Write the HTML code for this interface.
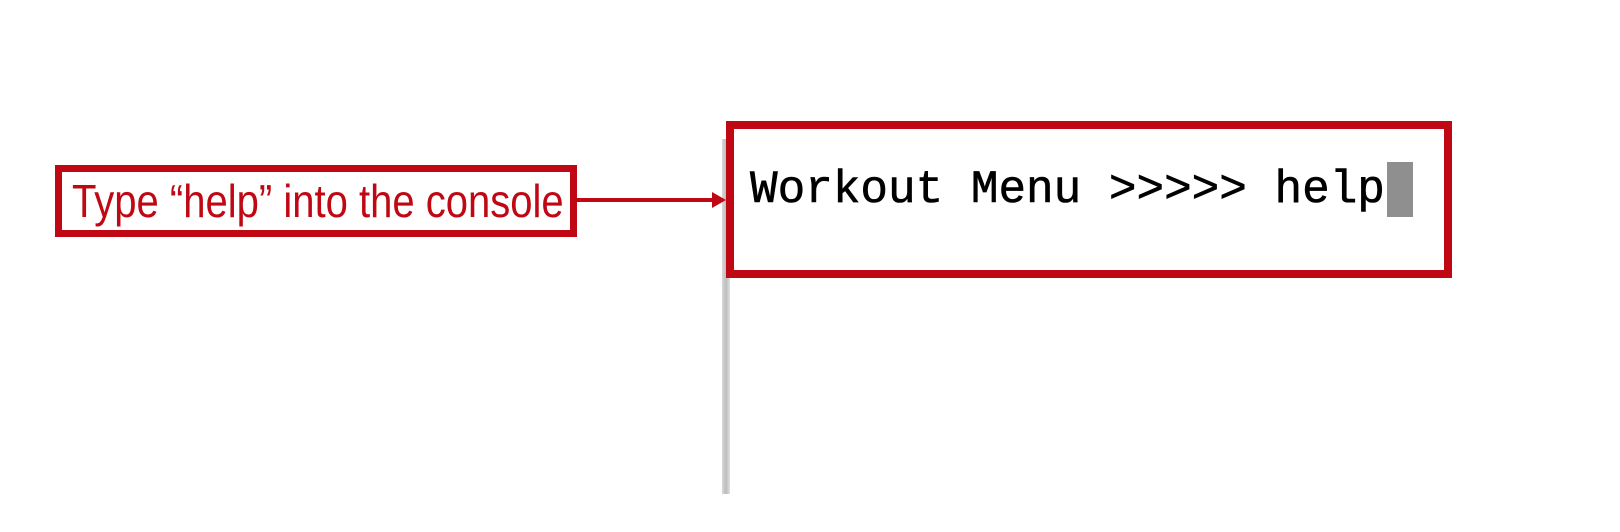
<!DOCTYPE html>
<html><head><meta charset="utf-8"><style>
body{margin:0;width:1620px;height:532px;background:#fff;position:relative;overflow:hidden}
div{position:absolute;box-sizing:border-box}
</style></head><body>
<div style="left:722px;top:139px;width:8px;height:355px;background:linear-gradient(90deg,#d8d8d8,#bdbdbd,#e0e0e0)"></div>
<div style="left:55px;top:165px;width:522px;height:72px;border:7px solid #c00814;background:#fff"></div>
<div style="left:72px;top:172px;width:490px;height:58px;line-height:58px;color:#c00814;font-family:'Liberation Sans',sans-serif;font-size:46px;white-space:nowrap;transform:scaleX(0.87);transform-origin:left center">Type “help” into the console</div>
<div style="left:577px;top:198px;width:140px;height:4px;background:#c00814"></div>
<svg style="position:absolute;left:712px;top:192px" width="16" height="16"><polygon points="0,0 14,8 0,16" fill="#c00814"/></svg>
<div style="left:726px;top:121px;width:726px;height:157px;border:8px solid #c00814;background:#fff"></div>
<div style="left:750px;top:160px;height:60px;line-height:60px;font-family:'Liberation Mono',monospace;font-size:46px;color:#000;white-space:pre;-webkit-text-stroke:0.6px #000">Workout Menu &gt;&gt;&gt;&gt;&gt; help</div>
<div style="left:1387px;top:162px;width:26px;height:55px;background:#8f8f8f"></div>
</body></html>
